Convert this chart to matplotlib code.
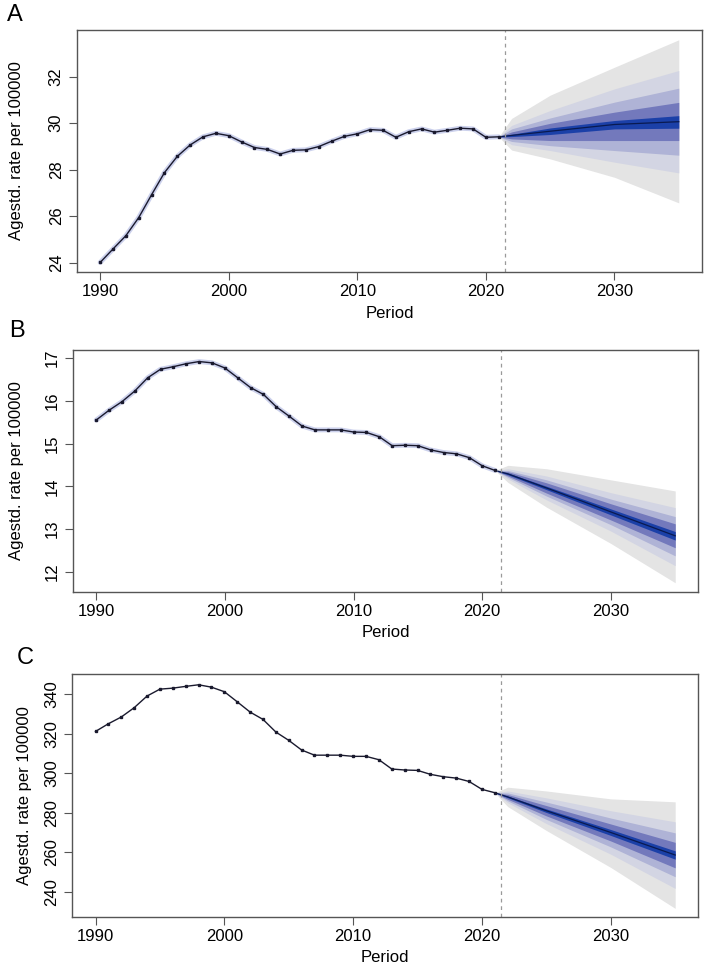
import numpy as np
import matplotlib
matplotlib.use("Agg")
import matplotlib.pyplot as plt

plt.rcParams["font.family"] = ["Liberation Sans", "DejaVu Sans"]

years = np.arange(1990, 2022)
fc_years = [2021, 2022, 2025, 2030, 2035]

# observed age-standardised rates
obs_a = [24.01, 24.59, 25.16, 25.94, 26.92, 27.87, 28.57, 29.06, 29.41, 29.56,
         29.46, 29.19, 28.95, 28.87, 28.67, 28.83, 28.85, 28.99, 29.22, 29.43,
         29.54, 29.72, 29.69, 29.39, 29.63, 29.75, 29.61, 29.69, 29.78, 29.75,
         29.39, 29.41]
obs_b = [15.55, 15.78, 15.98, 16.23, 16.54, 16.74, 16.80, 16.87, 16.92, 16.89,
         16.77, 16.54, 16.31, 16.15, 15.86, 15.64, 15.41, 15.32, 15.32, 15.32,
         15.27, 15.26, 15.16, 14.95, 14.96, 14.95, 14.85, 14.79, 14.76, 14.67,
         14.48, 14.37]
obs_c = [321.1, 325.0, 328.4, 333.1, 339.0, 342.5, 343.0, 343.9, 344.7, 343.5,
         341.2, 336.1, 330.9, 327.2, 320.8, 316.6, 311.7, 309.1, 309.1, 309.1,
         308.5, 308.5, 306.8, 302.1, 301.6, 301.4, 299.4, 298.2, 297.5, 295.8,
         291.8, 290.1]

# forecast mean and bands (outer -> inner), lower / upper at fc_years
mean_a = [29.41, 29.47, 29.65, 29.94, 30.06]
lo_a = [[29.41, 28.84, 28.46, 27.67, 26.57],
        [29.41, 29.07, 28.82, 28.32, 27.86],
        [29.41, 29.21, 29.03, 28.82, 28.62],
        [29.41, 29.32, 29.25, 29.25, 29.25],
        [29.41, 29.42, 29.51, 29.75, 29.78]]
hi_a = [[29.41, 30.20, 31.20, 32.40, 33.58],
        [29.41, 29.90, 30.54, 31.47, 32.26],
        [29.41, 29.75, 30.22, 30.90, 31.50],
        [29.41, 29.62, 29.99, 30.47, 30.89],
        [29.41, 29.52, 29.79, 30.11, 30.32]]

mean_b = [14.37, 14.29, 13.96, 13.40, 12.84]
lo_b = [[14.37, 14.09, 13.51, 12.66, 11.74],
        [14.37, 14.17, 13.68, 12.95, 12.14],
        [14.37, 14.21, 13.77, 13.10, 12.37],
        [14.37, 14.24, 13.84, 13.21, 12.56],
        [14.37, 14.27, 13.92, 13.33, 12.74]]
hi_b = [[14.37, 14.49, 14.41, 14.15, 13.89],
        [14.37, 14.41, 14.24, 13.85, 13.50],
        [14.37, 14.37, 14.15, 13.70, 13.29],
        [14.37, 14.34, 14.08, 13.59, 13.12],
        [14.37, 14.31, 14.00, 13.47, 12.94]]

mean_c = [290.1, 288.0, 281.0, 270.0, 258.6]
lo_c = [[290.1, 283.1, 271.0, 252.3, 231.6],
        [290.1, 285.0, 274.5, 259.0, 241.7],
        [290.1, 286.0, 276.6, 262.7, 247.6],
        [290.1, 286.8, 278.4, 265.7, 252.1],
        [290.1, 287.6, 280.1, 268.5, 256.5]]
hi_c = [[290.1, 292.9, 291.0, 287.0, 285.5],
        [290.1, 291.0, 287.5, 281.0, 275.4],
        [290.1, 290.0, 285.4, 277.3, 269.8],
        [290.1, 289.2, 283.6, 274.3, 265.0],
        [290.1, 288.4, 281.9, 271.5, 260.7]]

band_colors = ["#e4e4e4", "#d3d5e3", "#afb3d6", "#7379bc", "#1b40a8"]

panels = [
    ("A", obs_a, mean_a, lo_a, hi_a, (23.6, 34.0), [24, 26, 28, 30, 32], True,
     [0.1086, 0.719, 0.8814, 0.250], -0.085, (0.021, 0.9845)),
    ("B", obs_b, mean_b, lo_b, hi_b, (11.53, 17.19), [12, 13, 14, 15, 16, 17], True,
     [0.103, 0.3887, 0.882, 0.2497], -0.078, (0.024, 0.658)),
    ("C", obs_c, mean_c, lo_c, hi_c, (227.4, 350.0), [240, 260, 280, 300, 320, 340], False,
     [0.102, 0.053, 0.883, 0.2504], -0.064, (0.035, 0.320)),
]

fig = plt.figure(figsize=(7.09, 9.68), dpi=100)

for letter, obs, mean, lo, hi, ylim, yticks, halo, rect, ylab_x, lp in panels:
    ax = fig.add_axes(rect)
    for l, h, c in zip(lo, hi, band_colors):
        ax.fill_between(fc_years, l, h, color=c, lw=0)
    ax.plot(fc_years, mean, color="#0a1a50", lw=0.9)
    if halo:
        ax.plot(years, obs, color="#ccd1ec", lw=3.5, solid_capstyle="round")
    ax.plot(years, obs, color="#1a1a2e", lw=1.0, marker="s", ms=1.7)
    ax.axvline(2021.5, color="#9a9a9a", lw=0.9, ls=(0, (3, 3)))
    ax.set_xlim(1988.2, 2036.8)
    ax.set_ylim(*ylim)
    ax.set_xticks([1990, 2000, 2010, 2020, 2030])
    ax.set_yticks(yticks)
    ax.tick_params(axis="both", direction="out", length=5.5, width=0.8,
                   color="#555555", labelsize=12, pad=3)
    ax.tick_params(axis="y", pad=4)
    for t in ax.get_yticklabels():
        t.set_rotation(90)
        t.set_va("center")
    for s in ax.spines.values():
        s.set_color("#555555")
        s.set_linewidth(1.0)
    ax.set_xlabel("Period", fontsize=12, labelpad=5)
    ax.set_ylabel("Agestd. rate per 100000", fontsize=12)
    ax.yaxis.set_label_coords(ylab_x, 0.5)
    fig.text(lp[0], lp[1], letter, fontsize=17, va="center", ha="center")

fig.savefig("out.png", dpi=100)
